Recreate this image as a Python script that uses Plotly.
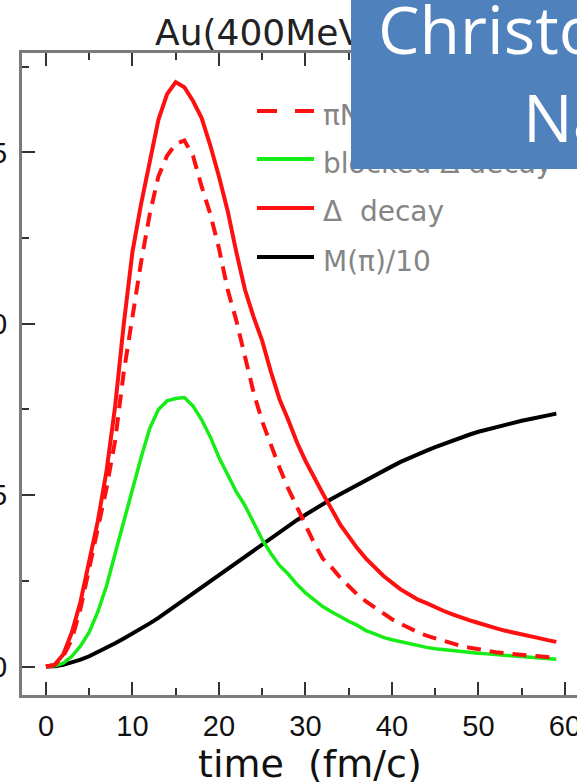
import plotly.graph_objects as go

# ---- data ----
time_fm = list(range(0, 60))

pin_to_delta = [0, 0.05, 0.3, 0.8, 1.7, 2.9, 4.0, 5.2, 6.6, 8.6,
                10.2, 11.8, 13.2, 14.3, 14.9, 15.25, 15.35, 14.9, 14.0, 13.2,
                12.2, 11.0, 10.1, 9.05, 8.0, 7.15, 6.45, 5.8, 5.2, 4.65,
                4.1, 3.6, 3.15, 2.9, 2.6, 2.35, 2.1, 1.9, 1.72, 1.55,
                1.38, 1.25, 1.12, 1.0, 0.9, 0.82, 0.74, 0.67, 0.6, 0.55,
                0.5, 0.46, 0.42, 0.39, 0.36, 0.34, 0.32, 0.3, 0.27, 0.25]

blocked_decay = [0, 0.02, 0.1, 0.3, 0.6, 1.0, 1.6, 2.35, 3.3, 4.25,
                 5.15, 6.1, 6.95, 7.5, 7.75, 7.82, 7.85, 7.6, 7.2, 6.7,
                 6.1, 5.6, 5.1, 4.7, 4.2, 3.7, 3.3, 2.95, 2.7, 2.4,
                 2.15, 1.95, 1.75, 1.6, 1.45, 1.32, 1.2, 1.05, 0.95, 0.85,
                 0.78, 0.72, 0.66, 0.61, 0.56, 0.52, 0.49, 0.46, 0.43, 0.41,
                 0.39, 0.37, 0.35, 0.32, 0.3, 0.28, 0.26, 0.24, 0.22, 0.21]

delta_decay = [0, 0.05, 0.35, 1.0, 1.9, 3.05, 4.25, 5.7, 7.6, 10.0,
               12.1, 13.5, 14.8, 15.95, 16.7, 17.05, 16.9, 16.5, 16.0, 15.2,
               14.3, 13.3, 12.1, 11.0, 10.2, 9.5, 8.6, 7.8, 7.2, 6.55,
               6.0, 5.5, 5.05, 4.6, 4.15, 3.8, 3.45, 3.15, 2.9, 2.65,
               2.45, 2.25, 2.1, 1.95, 1.85, 1.72, 1.62, 1.52, 1.42, 1.35,
               1.27, 1.18, 1.12, 1.05, 1.0, 0.95, 0.9, 0.83, 0.77, 0.72]

pion_mult_10 = [0, 0.01, 0.05, 0.12, 0.2, 0.3, 0.42, 0.55, 0.68, 0.82,
                0.96, 1.1, 1.26, 1.42, 1.6, 1.78, 1.96, 2.14, 2.32, 2.5,
                2.68, 2.86, 3.04, 3.22, 3.4, 3.58, 3.76, 3.93, 4.1, 4.27,
                4.43, 4.59, 4.74, 4.89, 5.03, 5.17, 5.3, 5.43, 5.57, 5.70,
                5.84, 5.97, 6.09, 6.2, 6.3, 6.4, 6.5, 6.6, 6.69, 6.77,
                6.85, 6.92, 6.99, 7.05, 7.11, 7.17, 7.22, 7.27, 7.33, 7.38]

x_ticks = [0, 10, 20, 30, 40, 50, 60]
y_ticks = [0, 5, 10, 15]

legend_labels = ["πN → Δ", "blocked Δ decay", "Δ\u00a0\u00a0decay", "M(π)/10"]
title_text = "Au(400MeV/u)+Au"
xaxis_title = "time\u00a0\u00a0(fm/c)"
banner_line1 = "Christoph"
banner_line2 = "Nantes"

# ---- geometry ----
W, H = 577, 782
L, R, T, B = 22, 577, 53, 695


def px(xp):
    return (xp - L) / (R - L)


def py(yp):
    return (B - yp) / (B - T)


RED = "#ff1010"
GREEN = "#16ec16"
BLACK = "#000000"
LEG_GREY = "#858585"

fig = go.Figure()
fig.add_trace(go.Scatter(x=time_fm, y=pion_mult_10, mode="lines",
                         line=dict(color=BLACK, width=4), showlegend=False))
fig.add_trace(go.Scatter(x=time_fm, y=blocked_decay, mode="lines",
                         line=dict(color=GREEN, width=3.5), showlegend=False))
fig.add_trace(go.Scatter(x=time_fm, y=pin_to_delta, mode="lines",
                         line=dict(color=RED, width=4, dash="14px,9px"),
                         showlegend=False))
fig.add_trace(go.Scatter(x=time_fm, y=delta_decay, mode="lines",
                         line=dict(color=RED, width=4), showlegend=False))

# manual legend
leg_y = [111, 159, 208, 257]
leg_styles = [dict(color=RED, width=4, dash="20px,18px"),
              dict(color=GREEN, width=4),
              dict(color=RED, width=4),
              dict(color=BLACK, width=4)]
shapes = []
annotations = []
for yy, st in zip(leg_y, leg_styles):
    shapes.append(dict(type="line", xref="paper", yref="paper",
                       x0=px(257), x1=px(314), y0=py(yy), y1=py(yy),
                       line=st, layer="above"))

annotations.append(dict(text=title_text, xref="paper", yref="paper",
                        x=px(153), y=py(32), xanchor="left", yanchor="middle",
                        showarrow=False,
                        font=dict(family="DejaVu Sans", size=36, color="#222")))
for yy, lab in zip(leg_y, legend_labels):
    annotations.append(dict(text=lab, xref="paper", yref="paper",
                            x=px(321), y=py(yy + 4), xanchor="left",
                            yanchor="middle", showarrow=False,
                            font=dict(family="DejaVu Sans", size=28,
                                      color=LEG_GREY)))
annotations.append(dict(text=xaxis_title, xref="paper", yref="paper",
                        x=px(310), y=py(764), xanchor="center",
                        yanchor="middle", showarrow=False,
                        font=dict(family="DejaVu Sans", size=38, color="#111")))
# banner box (drawn after title/legend text so it covers them)
annotations.append(dict(text=" ", xref="paper", yref="paper",
                        x=px(351), y=py(169), xanchor="left",
                        yanchor="bottom",
                        width=260, height=220, bgcolor="#4f81bd",
                        borderpad=0, borderwidth=0, showarrow=False,
                        font=dict(size=10)))
annotations.append(dict(text=banner_line1, xref="paper", yref="paper",
                        x=px(376), y=py(28), xanchor="left", yanchor="middle",
                        showarrow=False,
                        font=dict(family="Open Sans", size=66, color="white")))
annotations.append(dict(text=banner_line2, xref="paper", yref="paper",
                        x=px(521), y=py(116), xanchor="left",
                        yanchor="middle", showarrow=False,
                        font=dict(family="Open Sans", size=66, color="white")))

axis_line = dict(showline=True, linecolor="#7a7a7a", linewidth=3)
tick_font = dict(family="Liberation Sans", size=29, color="#111")
tick_common = dict(ticks="inside", ticklen=13, tickwidth=2, tickcolor="#333",
                   showgrid=False, zeroline=False, automargin=False)

fig.update_layout(
    width=W, height=H,
    margin=dict(l=L, r=W - R, t=T, b=H - B, pad=0, autoexpand=False),
    plot_bgcolor="white", paper_bgcolor="white",
    shapes=shapes, annotations=annotations,
    xaxis=dict(range=[-2.77, 61.39], tickvals=x_ticks, mirror="ticks",
               minor=dict(dtick=5, tick0=0, ticks="inside", ticklen=7,
                          tickwidth=2, tickcolor="#333"),
               tickfont=tick_font, ticklabelstandoff=3,
               ticklabeloverflow="allow", **tick_common, **axis_line),
    yaxis=dict(range=[-0.83, 17.9], tickvals=y_ticks,
               minor=dict(dtick=2.5, tick0=0, ticks="inside", ticklen=7,
                          tickwidth=2, tickcolor="#333"),
               tickfont=tick_font, ticklabelstandoff=6,
               ticklabeloverflow="allow", **tick_common, **axis_line),
    yaxis2=dict(range=[-0.83, 17.9], overlaying="y", side="right",
                anchor="x", tickvals=y_ticks,
                minor=dict(dtick=2.5, tick0=0, ticks="inside", ticklen=7,
                           tickwidth=2, tickcolor="#333"),
                showline=False, showticklabels=False, **tick_common),
)

fig.write_html("out.html")
